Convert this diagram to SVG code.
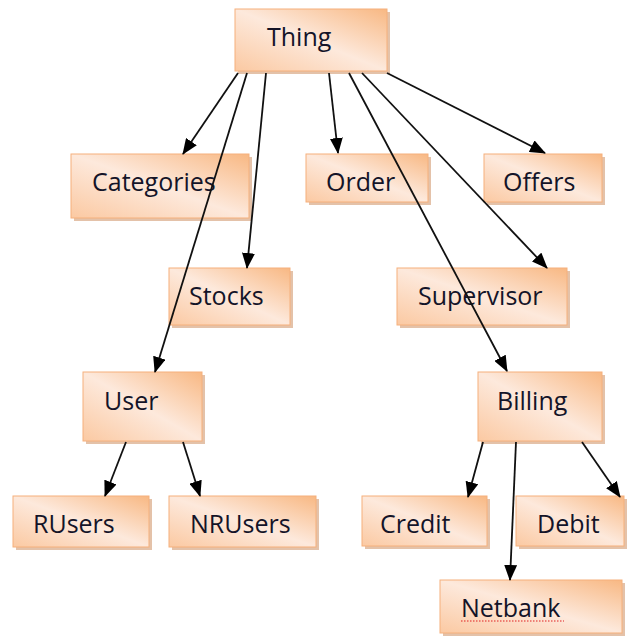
<svg xmlns="http://www.w3.org/2000/svg" width="627" height="639" viewBox="0 0 627 639">
<style>
.box{fill:url(#g);stroke:#f5b07c;stroke-width:1}
.sh{fill:#d29a70;opacity:0.6}
.t{font-family:"Open Sans","Liberation Sans",sans-serif;font-size:25px;fill:#141428}
.c{stroke:#111;stroke-width:1.8;fill:none;marker-end:url(#a)}
</style>
<defs>
<linearGradient id="g" x1="1" y1="0" x2="0" y2="1">
<stop offset="0" stop-color="#f8b883"/>
<stop offset="0.5" stop-color="#fde9dc"/>
<stop offset="1" stop-color="#fbc9a2"/>
</linearGradient>
<marker id="a" markerUnits="userSpaceOnUse" markerWidth="16" markerHeight="13" refX="15" refY="6.5" orient="auto" viewBox="0 0 16 13">
<path d="M0,0 L16,6.5 L0,13 z" fill="#000"/>
</marker>
</defs>
<rect width="627" height="639" fill="#fff"/>
<g id="thing"><rect class="sh" x="238" y="12" width="152" height="62"/><rect class="box" x="235" y="9" width="152" height="62"/><text class="t" x="267" y="46">Thing</text></g>
<g id="categories"><rect class="sh" x="74" y="157" width="178" height="64"/><rect class="box" x="71" y="154" width="178" height="64"/><text class="t" x="92" y="191">Categories</text></g>
<g id="order"><rect class="sh" x="309" y="157" width="122" height="48"/><rect class="box" x="306" y="154" width="122" height="48"/><text class="t" x="326" y="191">Order</text></g>
<g id="offers"><rect class="sh" x="487" y="157" width="118" height="48"/><rect class="box" x="484" y="154" width="118" height="48"/><text class="t" x="503" y="191">Offers</text></g>
<g id="stocks"><rect class="sh" x="172" y="271" width="121" height="57"/><rect class="box" x="169" y="268" width="121" height="57"/><text class="t" x="189" y="305">Stocks</text></g>
<g id="supervisor"><rect class="sh" x="400" y="271" width="170" height="57"/><rect class="box" x="397" y="268" width="170" height="57"/><text class="t" x="418" y="305">Supervisor</text></g>
<g id="user"><rect class="sh" x="86" y="375" width="119" height="69"/><rect class="box" x="83" y="372" width="119" height="69"/><text class="t" x="104" y="410">User</text></g>
<g id="billing"><rect class="sh" x="481" y="375" width="124" height="69"/><rect class="box" x="478" y="372" width="124" height="69"/><text class="t" x="497" y="410">Billing</text></g>
<g id="rusers"><rect class="sh" x="16" y="499" width="136" height="51"/><rect class="box" x="13" y="496" width="136" height="51"/><text class="t" x="33" y="533">RUsers</text></g>
<g id="nrusers"><rect class="sh" x="172" y="499" width="147" height="51"/><rect class="box" x="169" y="496" width="147" height="51"/><text class="t" x="190" y="533">NRUsers</text></g>
<g id="credit"><rect class="sh" x="365" y="499" width="125" height="50"/><rect class="box" x="362" y="496" width="125" height="50"/><text class="t" x="380" y="533">Credit</text></g>
<g id="debit"><rect class="sh" x="519" y="499" width="108" height="50"/><rect class="box" x="516" y="496" width="108" height="50"/><text class="t" x="537" y="533">Debit</text></g>
<g id="netbank"><rect class="sh" x="443" y="583" width="182" height="53"/><rect class="box" x="440" y="580" width="182" height="53"/><text class="t" x="461" y="617">Netbank</text><line x1="461" y1="621" x2="564" y2="621" stroke="#e02020" stroke-width="1.2" stroke-dasharray="1.5,1.5"/></g>
<g id="connectors">
<line class="c" x1="238" y1="73" x2="183" y2="154"/>
<line class="c" x1="247" y1="73" x2="155" y2="372"/>
<line class="c" x1="266" y1="73" x2="247" y2="268"/>
<line class="c" x1="329" y1="73" x2="338" y2="153"/>
<line class="c" x1="349" y1="73" x2="507" y2="371"/>
<line class="c" x1="362" y1="73" x2="547" y2="268"/>
<line class="c" x1="387" y1="73" x2="545" y2="153"/>
<line class="c" x1="126" y1="442" x2="105" y2="496"/>
<line class="c" x1="183" y1="442" x2="200" y2="496"/>
<line class="c" x1="483" y1="442" x2="468" y2="497"/>
<line class="c" x1="516" y1="442" x2="510" y2="580"/>
<line class="c" x1="582" y1="442" x2="620" y2="497"/>
</g>
</svg>
